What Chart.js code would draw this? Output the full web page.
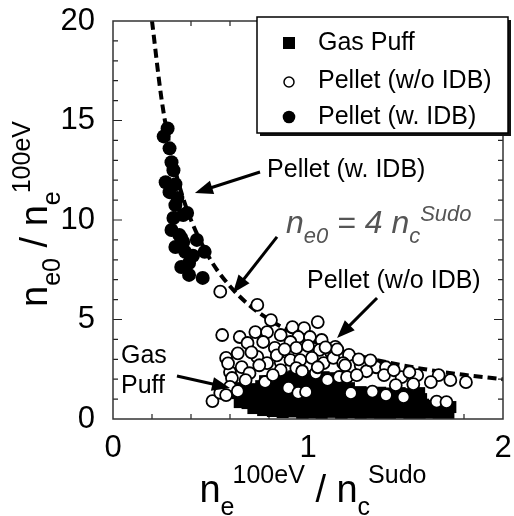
<!DOCTYPE html>
<html>
<head>
<meta charset="utf-8">
<script src="https://cdn.jsdelivr.net/npm/chart.js@4.4.0/dist/chart.umd.min.js"></script>
<style>
  html, body { margin: 0; padding: 0; background: #fff; }
</style>
</head>
<body>
<canvas id="c" width="514" height="516"></canvas>
<script>
// --- data ---
const seriesNames = ['Gas Puff', 'Pellet (w/o IDB)', 'Pellet (w. IDB)'];

const gasPuffX = [0.72,0.77,0.82,0.87,0.92,0.97,1.02,1.07,1.12,1.17,1.22,1.27,1.32,1.37,1.42,1.47,1.52,1.57,1.62,1.67,1.72,
  0.65,0.69,0.74,0.79,0.84,0.89,0.94,0.99,1.04,1.09,1.14,1.19,1.24,1.29,1.34,1.39,1.44,1.49,1.54,1.59,1.64,1.69,1.73,
  0.64,0.68,0.73,0.78,0.83,0.88,0.93,0.98,1.03,1.08,1.13,1.18,1.23,1.28,1.33,1.38,1.43,1.48,1.53,1.58,
  0.66,0.71,0.76,0.81,0.86,0.91,0.96,1.01,1.06,1.11,1.16,1.21,1.27,1.32,1.37,1.42,1.47,1.52,1.57,
  0.78,0.83,0.88,0.93,0.98,1.03,1.08,1.13,1.18];
const gasPuffY = [0.55,0.45,0.40,0.35,0.38,0.30,0.33,0.30,0.36,0.30,0.34,0.30,0.32,0.28,0.30,0.33,0.30,0.28,0.32,0.30,0.30,
  0.85,0.80,0.78,0.82,0.75,0.80,0.72,0.78,0.74,0.80,0.72,0.76,0.70,0.78,0.72,0.76,0.70,0.74,0.68,0.72,0.66,0.62,0.60,
  1.30,1.20,1.25,1.15,1.20,1.25,1.15,1.20,1.25,1.15,1.20,1.22,1.10,1.15,1.05,1.10,1.00,1.05,0.98,1.00,
  1.55,1.50,1.65,1.60,1.70,1.60,1.65,1.70,1.60,1.65,1.60,1.55,1.35,1.30,1.32,1.28,1.30,1.25,1.30,
  1.90,1.95,2.10,2.15,2.10,2.15,2.10,2.05,2.00];

const pelletNoIdbX = [0.55,0.74,0.81,1.05,0.98,0.92,0.65,0.73,0.79,0.86,0.95,1.01,1.07,1.14,1.21,0.69,0.77,0.91,0.83,0.94,
  1.00,1.06,1.12,0.56,0.58,0.66,0.60,0.61,0.74,0.79,0.86,0.91,0.96,1.02,1.08,1.13,1.18,0.86,0.94,1.04,
  1.10,1.16,0.78,0.90,0.95,0.99,0.51,0.55,0.60,0.64,0.71,0.75,0.84,0.70,1.15,1.27,1.35,1.40,1.30,1.20,
  1.48,1.56,1.67,1.63,1.81,1.54,1.45,1.22,1.33,1.40,1.49,1.66,1.71,1.25,1.39,1.19,1.26,1.32,1.44,1.52,
  1.09,0.88,0.97,0.82,0.68,0.64,0.58,1.73,0.59,1.05];
const pelletNoIdbY = [6.40,5.73,4.97,4.87,4.57,4.62,4.12,4.37,4.37,4.22,4.12,4.12,3.97,3.62,3.22,3.82,3.87,3.87,3.57,3.57,
  3.67,3.47,3.32,4.22,3.07,2.61,2.36,2.06,3.12,2.81,2.86,2.96,2.96,3.07,2.81,3.07,2.81,2.46,2.56,2.31,
  1.96,2.11,1.86,1.56,1.31,1.36,0.90,1.31,1.61,3.30,3.35,2.70,3.20,2.30,3.50,2.70,2.60,2.60,2.40,2.10,
  2.10,2.20,2.20,1.85,1.85,1.75,1.70,1.30,1.38,1.20,1.10,0.87,0.85,2.20,2.20,2.70,3.00,2.95,2.45,2.35,
  3.60,3.50,2.40,2.20,1.95,1.40,1.20,1.95,2.80,2.60];

const pelletIdbX = [0.28,0.26,0.29,0.31,0.27,0.32,0.29,0.32,0.36,0.31,0.30,0.34,0.32,0.37,0.39,0.35,0.39,0.46,0.38,0.43,
  0.47,0.35,0.30,0.33,0.36,0.41];
const pelletIdbY = [14.6,14.2,13.6,12.5,11.9,11.8,11.4,10.75,10.25,10.1,9.5,9.25,8.64,8.4,7.84,7.64,7.24,7.09,10.35,9.0,
  8.4,9.1,12.9,11.1,8.9,8.2];

// dashed guide n_e0 = 4 n_c^Sudo
const curveX = [0.2,0.25,0.3,0.35,0.4,0.5,0.6,0.7,0.8,0.9,1.0,1.2,1.4,1.6,1.8,2.0];
const curveY = [20,16,13.3,11.4,10,8,6.67,5.71,5,4.44,4,3.33,2.86,2.5,2.22,2];

const xTickLabels = ['0', '1', '2'];
const yTickLabels = ['0', '5', '10', '15', '20'];

const FONT = '"Liberation Sans", Arial, Helvetica, sans-serif';

function pts(xs, ys) {
  return xs.map((x, i) => ({ x: x, y: ys[i] }));
}

// annotation anchors in data units
const notes = [
  { text: 'Pellet (w. IDB)', x: 0.79, y: 12.16, from: [0.754, 12.41], to: [0.42, 11.36] },
  { text: 'Pellet (w/o IDB)', x: 0.995, y: 6.58, from: [1.354, 6.08], to: [1.149, 4.07] },
  { text: 'Gas', x: 0.041, y: 2.81 },
  { text: 'Puff', x: 0.041, y: 1.31, from: [0.328, 2.16], to: [0.60, 1.56] },
  { formula: true, x: 0.887, y: 9.35, from: [0.841, 9.15], to: [0.615, 6.33] }
];

function rich(ctx, parts, x, y) {
  parts.forEach(p => {
    ctx.font = (p.it ? 'italic ' : '') + p.s + 'px ' + FONT;
    ctx.fillText(p.t, x, y + (p.dy || 0));
    x += ctx.measureText(p.t).width + (p.k || 0);
  });
}
function richWidth(ctx, parts) {
  let w = 0;
  parts.forEach(p => {
    ctx.font = (p.it ? 'italic ' : '') + p.s + 'px ' + FONT;
    w += ctx.measureText(p.t).width + (p.k || 0);
  });
  return w;
}

function arrow(ctx, x1, y1, x2, y2) {
  const a = Math.atan2(y2 - y1, x2 - x1), L = 18, W = 7;
  ctx.lineWidth = 3;
  ctx.beginPath();
  ctx.moveTo(x1, y1);
  ctx.lineTo(x2 - L * 0.8 * Math.cos(a), y2 - L * 0.8 * Math.sin(a));
  ctx.stroke();
  ctx.beginPath();
  ctx.moveTo(x2, y2);
  ctx.lineTo(x2 - L * Math.cos(a) + W * Math.sin(a), y2 - L * Math.sin(a) - W * Math.cos(a));
  ctx.lineTo(x2 - L * Math.cos(a) - W * Math.sin(a), y2 - L * Math.sin(a) + W * Math.cos(a));
  ctx.closePath();
  ctx.fill();
}

const frame = {
  id: 'frame',
  beforeDatasetsDraw(chart) {
    const { ctx, chartArea: a, scales: { x, y } } = chart;
    ctx.save();
    ctx.strokeStyle = '#222';
    ctx.lineWidth = 1.2;
    ctx.beginPath();
    for (let i = 1; i < 10; i++) {
      const v = i * 0.2, px = x.getPixelForValue(v);
      const len = (i % 5 === 0) ? 9 : 5;
      ctx.moveTo(px, a.bottom); ctx.lineTo(px, a.bottom - len);
      ctx.moveTo(px, a.top); ctx.lineTo(px, a.top + len);
    }
    for (let v = 1; v < 20; v++) {
      const py = y.getPixelForValue(v);
      const len = (v % 5 === 0) ? 9 : 5;
      ctx.moveTo(a.left, py); ctx.lineTo(a.left + len, py);
      ctx.moveTo(a.right, py); ctx.lineTo(a.right - len, py);
    }
    ctx.stroke();
    ctx.restore();
  },
  afterDatasetsDraw(chart) {
    const { ctx, chartArea: a } = chart;
    ctx.save();
    ctx.strokeStyle = '#333';
    ctx.lineWidth = 1.5;
    ctx.strokeRect(a.left, a.top, a.right - a.left, a.bottom - a.top);
    ctx.restore();
  },
  afterDraw(chart) {
    const { ctx, chartArea: a, scales: { x, y } } = chart;
    ctx.save();
    ctx.fillStyle = '#000';
    ctx.strokeStyle = '#000';
    ctx.textBaseline = 'alphabetic';
    ctx.textAlign = 'left';

    // x title
    const xt = [
      { t: 'n', s: 38 }, { t: 'e', s: 25, dy: 13, k: -2 }, { t: '100eV', s: 25, dy: -19 },
      { t: ' / ', s: 38 }, { t: 'n', s: 38 }, { t: 'c', s: 25, dy: 13, k: -2 }, { t: 'Sudo', s: 25, dy: -19 }
    ];
    const xw = richWidth(ctx, xt);
    rich(ctx, xt, (a.left + a.right) / 2 + 5 - xw / 2, 502);

    // y title
    const yt = [
      { t: 'n', s: 38 }, { t: 'e0', s: 25, dy: 13 }, { t: ' / ', s: 38 },
      { t: 'n', s: 38 }, { t: 'e', s: 25, dy: 13, k: -2 }, { t: '100eV', s: 25, dy: -17 }
    ];
    const yw = richWidth(ctx, yt);
    ctx.save();
    ctx.translate(47, (a.top + a.bottom) / 2 + yw / 2 - 6);
    ctx.rotate(-Math.PI / 2);
    rich(ctx, yt, 0, 0);
    ctx.restore();

    // annotations
    notes.forEach(n => {
      const tx = x.getPixelForValue(n.x), ty = y.getPixelForValue(n.y);
      if (n.formula) {
        ctx.fillStyle = '#555';
        rich(ctx, [
          { t: 'n', s: 32, it: true }, { t: 'e0', s: 22, it: true, dy: 10 },
          { t: ' = 4 ', s: 32, it: true }, { t: 'n', s: 32, it: true },
          { t: 'c', s: 22, it: true, dy: 10 }, { t: 'Sudo', s: 22, it: true, dy: -12 }
        ], tx, ty);
        ctx.fillStyle = '#000';
      } else {
        ctx.font = '25px ' + FONT;
        ctx.fillText(n.text, tx, ty);
      }
      if (n.from) {
        arrow(ctx, x.getPixelForValue(n.from[0]), y.getPixelForValue(n.from[1]),
          x.getPixelForValue(n.to[0]), y.getPixelForValue(n.to[1]));
      }
    });

    // legend box with drop shadow
    const bx = 257, by = 17, bw = 251, bh = 116;
    ctx.fillStyle = '#111';
    ctx.fillRect(bx + 3, by + 3, bw, bh);
    ctx.fillStyle = '#fff';
    ctx.fillRect(bx, by, bw, bh);
    ctx.lineWidth = 1.5;
    ctx.strokeStyle = '#000';
    ctx.strokeRect(bx, by, bw, bh);
    const rows = [50, 88, 124];
    const mk = [43, 82, 117];
    ctx.fillStyle = '#000';
    ctx.fillRect(283, mk[0] - 6, 12, 12);
    ctx.beginPath(); ctx.arc(289, mk[1], 5, 0, Math.PI * 2);
    ctx.fillStyle = '#fff'; ctx.fill(); ctx.lineWidth = 1.5; ctx.stroke();
    ctx.beginPath(); ctx.arc(289, mk[2], 6.3, 0, Math.PI * 2);
    ctx.fillStyle = '#000'; ctx.fill();
    ctx.font = '25px ' + FONT;
    seriesNames.forEach((s, i) => ctx.fillText(s, 318, rows[i]));
    ctx.restore();
  }
};

new Chart(document.getElementById('c'), {
  type: 'scatter',
  data: {
    datasets: [
      {
        label: seriesNames[2], data: pts(pelletIdbX, pelletIdbY), order: 1,
        pointStyle: 'circle', pointRadius: 7, backgroundColor: '#000', borderColor: '#000', borderWidth: 0
      },
      {
        label: seriesNames[1], data: pts(pelletNoIdbX, pelletNoIdbY), order: 2,
        pointStyle: 'circle', pointRadius: 6, backgroundColor: '#fff', borderColor: '#000', borderWidth: 1.8
      },
      {
        label: seriesNames[0], data: pts(gasPuffX, gasPuffY), order: 3,
        pointStyle: 'rect', pointRadius: 8.5, backgroundColor: '#000', borderColor: '#000', borderWidth: 0
      },
      {
        type: 'line', label: 'guide', data: pts(curveX, curveY), order: 4,
        showLine: true, pointRadius: 0, borderColor: '#000', borderWidth: 4,
        borderDash: [9, 5], cubicInterpolationMode: 'monotone', fill: false
      }
    ]
  },
  options: {
    responsive: false,
    animation: false,
    layout: { autoPadding: false, padding: { left: 0, right: 11, top: 21, bottom: 0 } },
    plugins: { legend: { display: false }, tooltip: { enabled: false } },
    scales: {
      x: {
        type: 'linear', min: 0, max: 2,
        // fixed axis band; drop the label overflow so layout.padding decides the plot edges
        afterFit(s) { s.height = 97; s.paddingLeft = 0; s.paddingRight = 0; },
        grid: { display: false },
        border: { display: false },
        ticks: {
          stepSize: 1, padding: 3, color: '#000',
          font: { size: 31, family: FONT },
          callback: v => xTickLabels[v] !== undefined ? xTickLabels[v] : ''
        }
      },
      y: {
        type: 'linear', min: 0, max: 20,
        afterFit(s) { s.width = 113; s.paddingTop = 0; s.paddingBottom = 0; },
        grid: { display: false },
        border: { display: false },
        ticks: {
          stepSize: 5, padding: 10, color: '#000',
          font: { size: 31, family: FONT },
          callback: v => yTickLabels[v / 5] !== undefined ? yTickLabels[v / 5] : ''
        }
      }
    }
  },
  plugins: [frame]
});
</script>
</body>
</html>
